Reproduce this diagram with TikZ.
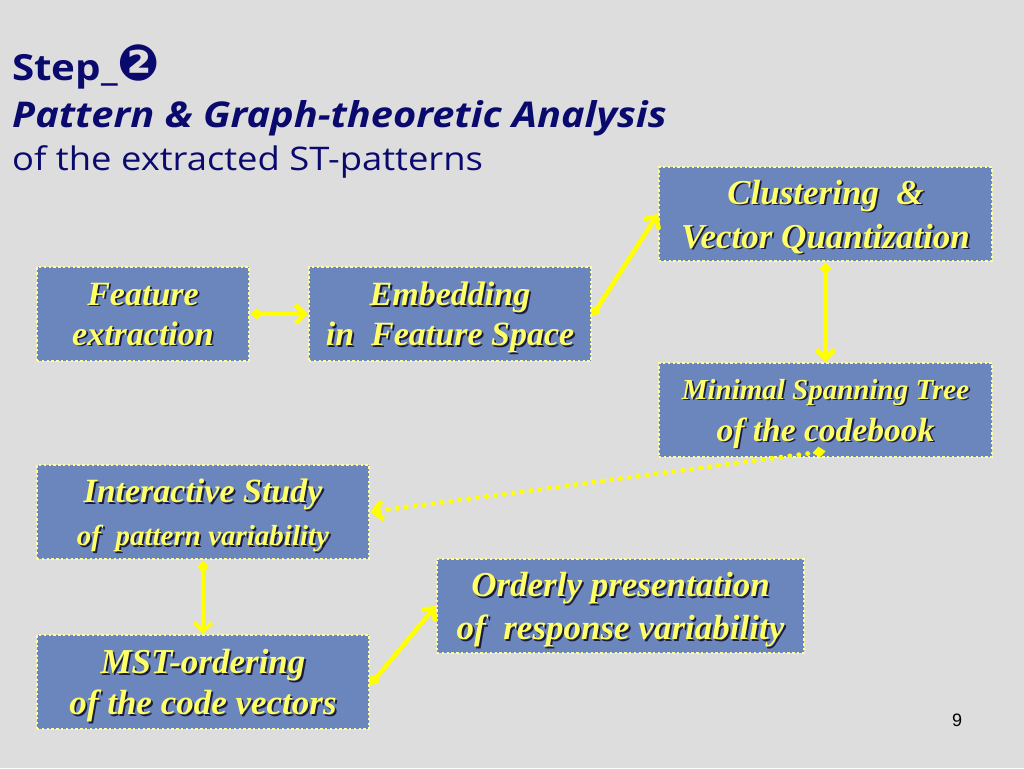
\documentclass[tikz,border=0pt]{standalone}
\usepackage{fontspec}
\setmainfont{Liberation Serif}
\newfontfamily\titlefont[FakeStretch=1.12]{Open Sans}
\newfontfamily\dingfont{DejaVu Sans}
\newfontfamily\numfont{Liberation Sans}
\usetikzlibrary{arrows.meta}
\definecolor{bg}{HTML}{DDDDDD}
\definecolor{boxfill}{HTML}{6A86BC}
\definecolor{boxedge}{HTML}{FFFF99}
\definecolor{txt}{HTML}{FFFF66}
\definecolor{shade}{HTML}{1C1C40}
\definecolor{arrowc}{HTML}{FFFF00}
\definecolor{navy}{HTML}{0A0A6E}
\newcommand\shd[1]{\leavevmode\rlap{\raisebox{-1.8pt}{\kern1.8pt\textcolor{shade}{#1}}}\textcolor{txt}{#1}}
\newcommand\bxf[2]{\bfseries\itshape\fontsize{#1}{#2}\selectfont}
\tikzset{
  stepbox/.style={draw=boxedge, fill=boxfill, line width=2.4pt, dash pattern=on 2.4pt off 2.4pt,
    inner sep=0pt, align=center, minimum height=94pt, text depth=0pt},
  link/.style={draw=arrowc, line width=4.5pt,
    {Diamond[length=13pt,width=11pt]}-{Straight Barb[length=9pt,width=18pt]}},
  dotlink/.style={link, line width=5pt, line cap=round, dash pattern=on 0pt off 9pt},
  titletext/.style={anchor=base west, inner sep=0pt, text=navy}
}
\begin{document}
\begin{tikzpicture}[x=1pt,y=-1pt]
\fill[bg] (0,0) rectangle (1024,768);
\useasboundingbox (0,0) rectangle (1024,768);

\node[titletext, font=\titlefont\bfseries\fontsize{36}{40}\selectfont] (t1) at (12,80) {Step\_{\dingfont\fontsize{50}{50}\selectfont ❷}};
\node[titletext, font=\titlefont\bfseries\itshape\fontsize{35.5}{40}\selectfont] (t2) at (12,127) {Pattern \& Graph-theoretic Analysis};
\node[titletext, font=\titlefont\fontsize{32.5}{36}\selectfont] (t3) at (12,170) {of the extracted ST-patterns};

\node[stepbox, minimum width=212pt, font=\bxf{34}{40}] (fe) at (143,314) {\shd{Feature}\\\shd{extraction}};
\node[stepbox, minimum width=282pt, font=\bxf{34}{40}] (em) at (450,314) {\shd{Embedding}\\\shd{in\ \ Feature Space}};
\node[stepbox, minimum width=333pt, font=\bxf{35}{44}] (cl) at (825.5,214) {\shd{Clustering\ \ \&}\\\shd{Vector Quantization}};
\node[stepbox, minimum width=333pt, font=\bxf{33.5}{42}] (ms) at (825.5,410) {{\fontsize{29}{42}\selectfont\shd{Minimal Spanning Tree}}\\\shd{of\ the codebook}};
\node[stepbox, minimum width=332pt, font=\bxf{34}{43}] (is) at (203,512) {\shd{Interactive Study}\\{\fontsize{29}{43}\selectfont\shd{of\ \ pattern variability}}};
\node[stepbox, minimum width=332pt, font=\bxf{35}{41}] (mo) at (203,682) {\shd{MST-ordering}\\\shd{of\ the code vectors}};
\node[stepbox, minimum width=367pt, font=\bxf{35}{43}] (op) at (620.5,606) {\shd{Orderly presentation}\\\shd{of\ \ response variability}};

\node[anchor=base, inner sep=0pt, font=\numfont\fontsize{18}{20}\selectfont] (pg) at (957,726) {9};

\draw[link] (fe.east) -- (em.west);
\draw[link] ([yshift=-2pt]em.east) -- (cl.west);
\draw[link] (cl.south) -- (ms.north);
\draw[dotlink] ([yshift=7pt]ms.south) -- (is.east);
\draw[link, line width=3.5pt] (is.south) -- (mo.north);
\draw[link] ([yshift=-3pt]mo.east) -- (op.west);
\end{tikzpicture}
\end{document}
